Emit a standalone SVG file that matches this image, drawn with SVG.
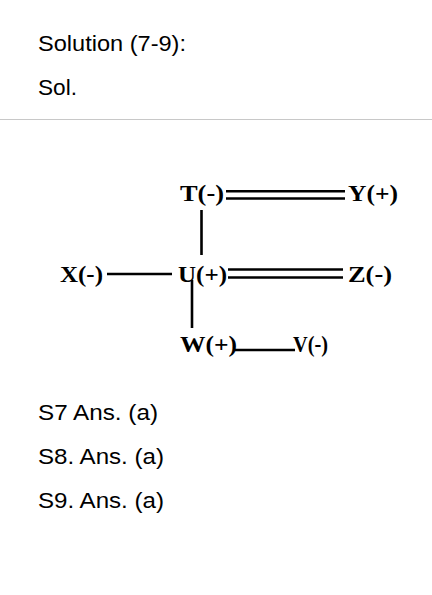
<svg xmlns="http://www.w3.org/2000/svg" width="432" height="595" viewBox="0 0 432 595">
<style>
.t{font-family:"Liberation Sans",Arial,sans-serif;font-size:22px;fill:#000}
.n{font-family:"Liberation Serif","Times New Roman",serif;font-weight:bold;font-size:23px;fill:#000}
.c{stroke:#000;stroke-width:2.6;fill:none}
</style>
<rect width="432" height="595" fill="#fff"/>
<text class="t" x="38" y="51" textLength="148" lengthAdjust="spacingAndGlyphs">Solution (7-9):</text>
<text class="t" x="38" y="95" textLength="39" lengthAdjust="spacingAndGlyphs">Sol.</text>
<line x1="0" y1="119.5" x2="432" y2="119.5" stroke="#c8c8c8" stroke-width="1.2"/>
<g id="connectors">
<line class="c" x1="226" y1="191.3" x2="345" y2="191.3"/>
<line class="c" x1="226" y1="198.5" x2="345" y2="198.5"/>
<line class="c" x1="201.5" y1="210" x2="201.5" y2="255"/>
<line class="c" x1="107" y1="274" x2="172" y2="274"/>
<line class="c" x1="228" y1="269.5" x2="343" y2="269.5"/>
<line class="c" x1="228" y1="277.5" x2="343" y2="277.5"/>
<line class="c" x1="192" y1="280" x2="192" y2="328"/>
<line class="c" x1="235" y1="350" x2="295" y2="350"/>
</g>
<g id="T"><text class="n" x="180" y="201" textLength="44" lengthAdjust="spacingAndGlyphs">T(-)</text></g>
<g id="Y"><text class="n" x="348" y="201" textLength="50" lengthAdjust="spacingAndGlyphs">Y(+)</text></g>
<g id="X"><text class="n" x="60" y="282" textLength="43" lengthAdjust="spacingAndGlyphs">X(-)</text></g>
<g id="U"><text class="n" x="178" y="282" textLength="49" lengthAdjust="spacingAndGlyphs">U(+)</text></g>
<g id="Z"><text class="n" x="348" y="282" textLength="44" lengthAdjust="spacingAndGlyphs">Z(-)</text></g>
<g id="W"><text class="n" x="180" y="352" textLength="57" lengthAdjust="spacingAndGlyphs">W(+)</text></g>
<g id="V"><text class="n" x="293" y="352" textLength="35" lengthAdjust="spacingAndGlyphs">V(-)</text></g>
<text class="t" x="38" y="420" textLength="120" lengthAdjust="spacingAndGlyphs">S7 Ans. (a)</text>
<text class="t" x="38" y="464" textLength="126" lengthAdjust="spacingAndGlyphs">S8. Ans. (a)</text>
<text class="t" x="38" y="508" textLength="126" lengthAdjust="spacingAndGlyphs">S9. Ans. (a)</text>
</svg>
